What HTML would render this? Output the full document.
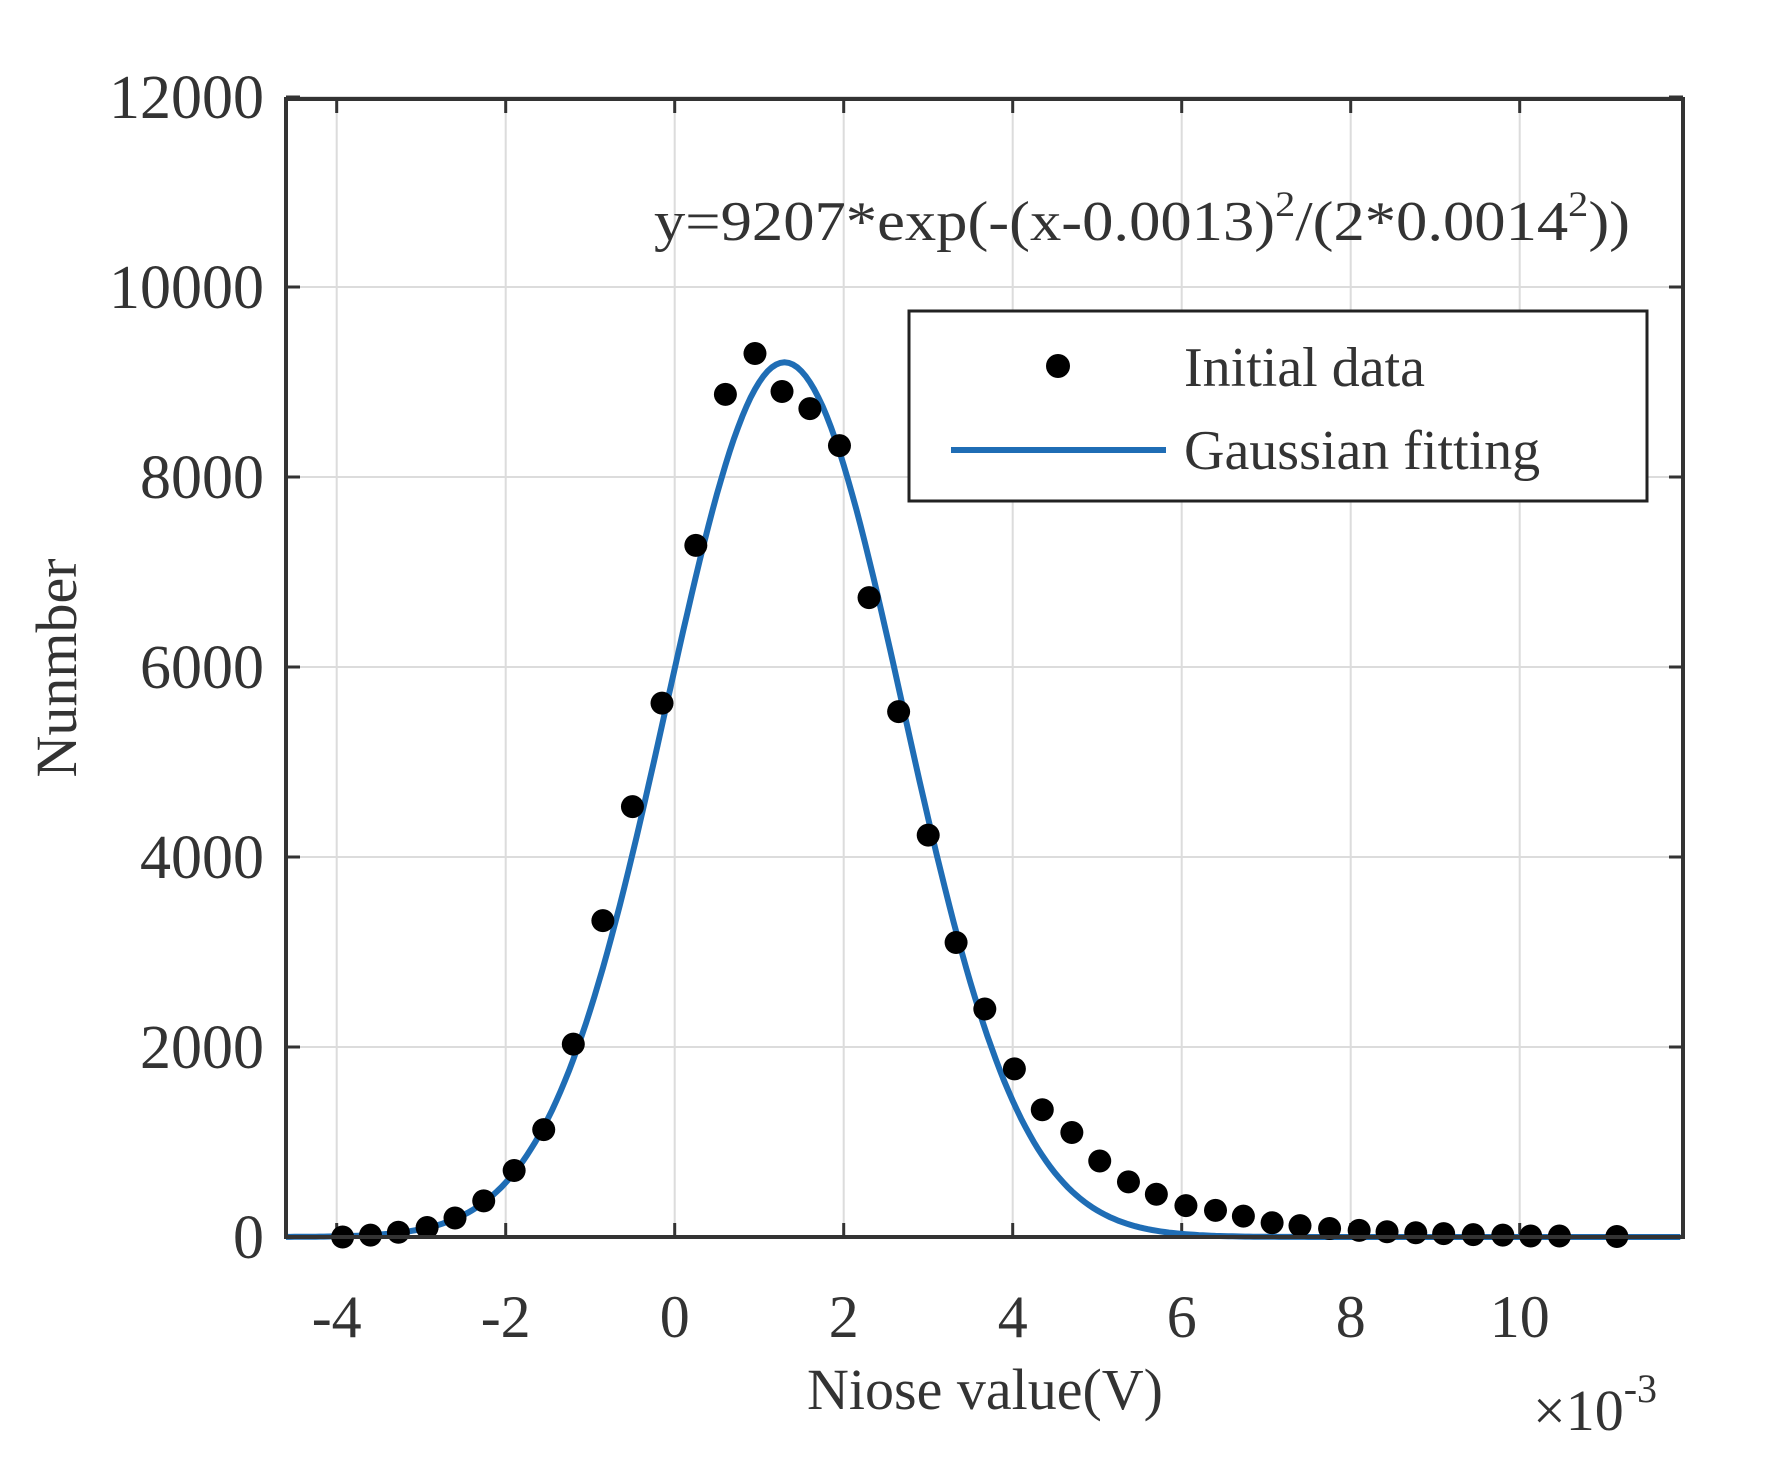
<!DOCTYPE html>
<html><head><meta charset="utf-8"><style>
html,body{margin:0;padding:0;background:#fff;}
svg text{font-family:"Liberation Serif",serif;fill:#333;}
</style></head><body>
<svg id="s" width="1768" height="1467" viewBox="0 0 1768 1467" xmlns="http://www.w3.org/2000/svg">
<rect width="1768" height="1467" fill="#fff"/>
<g id="grid" stroke="#dcdcdc" stroke-width="2"></g>
<g id="ticks" stroke="#333" stroke-width="3"></g>
<g id="labels" font-size="60"></g>
<path id="curve" fill="none" stroke="#1f6db5" stroke-width="6"/>
<g id="dots" fill="#000"></g>
<rect x="286" y="99" width="1397" height="1138" fill="none" stroke="#333" stroke-width="4"/>
<text x="654" y="240" font-size="56" textLength="976" lengthAdjust="spacingAndGlyphs">y=9207*exp(-(x-0.0013)<tspan dy="-24" font-size="36">2</tspan><tspan dy="24">/(2*0.0014</tspan><tspan dy="-24" font-size="36">2</tspan><tspan dy="24">))</tspan></text>
<rect x="909" y="311" width="738" height="190" fill="#fff" stroke="#222" stroke-width="3"/>
<circle cx="1058" cy="366" r="12" fill="#000"/>
<line x1="951" y1="450" x2="1166" y2="450" stroke="#1f6db5" stroke-width="6"/>
<text x="1184" y="386" font-size="56">Initial data</text>
<text x="1184" y="469" font-size="56">Gaussian fitting</text>
<text x="985" y="1409" font-size="58" text-anchor="middle">Niose value(V)</text>
<text x="1533" y="1430" font-size="58">×10<tspan dy="-28" font-size="40">-3</tspan></text>
<text transform="translate(76,668) rotate(-90)" font-size="58" text-anchor="middle">Nunmber</text>
</svg>
<script>
var NS="http://www.w3.org/2000/svg";
function X(x){return 286+(x+4.6)*84.5;}
function Y(y){return 1237-y*0.095;}
function el(p,t,a,txt){var e=document.createElementNS(NS,t);for(var k in a)e.setAttribute(k,a[k]);if(txt!==undefined)e.textContent=txt;document.getElementById(p).appendChild(e);}
for(var v=-4;v<=10;v+=2){var x=X(v);el("grid","line",{x1:x,y1:99,x2:x,y2:1237});
el("ticks","line",{x1:x,y1:1237,x2:x,y2:1223});el("ticks","line",{x1:x,y1:99,x2:x,y2:113});
el("labels","text",{x:x,y:1337,"text-anchor":"middle"},v<0?"-"+(-v):""+v);}
for(var v=0;v<=12000;v+=2000){var y=Y(v);el("grid","line",{x1:286,y1:y,x2:1683,y2:y});
el("ticks","line",{x1:286,y1:y,x2:300,y2:y});el("ticks","line",{x1:1683,y1:y,x2:1669,y2:y});
el("labels","text",{x:264,y:y+21,"text-anchor":"end","font-size":"62"},""+v);}
var d="";for(var x=-4.6;x<=11.93;x+=0.05){var y=9207*Math.exp(-Math.pow(x-1.3,2)/(2*1.96));d+=(d?"L":"M")+X(x).toFixed(1)+","+Y(y).toFixed(1);}
document.getElementById("curve").setAttribute("d",d);
var pts=[[-3.93,0],[-3.6,20],[-3.27,50],[-2.93,100],[-2.6,200],[-2.26,380],[-1.9,700],[-1.55,1130],[-1.2,2030],[-0.85,3330],[-0.5,4530],[-0.15,5620],[0.25,7280],[0.6,8870],[0.95,9300],[1.27,8900],[1.6,8720],[1.95,8330],[2.3,6730],[2.65,5530],[3.0,4230],[3.33,3100],[3.67,2400],[4.02,1770],[4.35,1340],[4.7,1100],[5.03,800],[5.37,580],[5.7,450],[6.05,330],[6.4,280],[6.73,220],[7.07,150],[7.4,120],[7.75,90],[8.1,70],[8.43,55],[8.77,45],[9.1,35],[9.45,25],[9.8,20],[10.13,10],[10.47,10],[11.15,5]];
pts.forEach(function(p){el("dots","circle",{cx:X(p[0]),cy:Y(p[1]),r:11.5});});
</script>
</body></html>
